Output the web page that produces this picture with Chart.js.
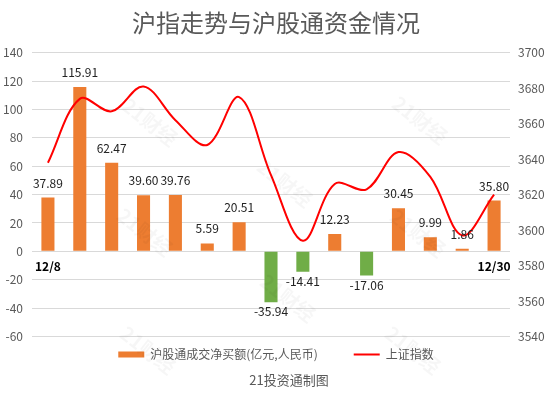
<!DOCTYPE html>
<html>
<head>
<meta charset="utf-8">
<script src="https://cdn.jsdelivr.net/npm/chart.js@4.4.0/dist/chart.umd.min.js"></script>
<style>
    html, body { margin: 0; padding: 0; background: #fff; }
    #wrap { width: 552px; height: 398px; }
</style>
</head>
<body>
<div id="wrap"><canvas id="myChart"></canvas></div>
<script>
// trading days shown (Hong Kong holidays skipped)
var days = ['12/8', '12/9', '12/10', '12/13', '12/14', '12/15', '12/16', '12/17', '12/20', '12/21', '12/22', '12/23', '12/28', '12/29', '12/30'];
// net buy via Shanghai Connect, 100m yuan
var netBuy = [37.89, 115.91, 62.47, 39.60, 39.76, 5.59, 20.51, -35.94, -14.41, 12.23, -17.06, 30.45, 9.99, 1.86, 35.80];
// SSE composite close
var shIndex = [3638, 3674, 3667, 3681, 3662, 3648, 3675, 3631, 3594, 3626, 3623, 3644, 3630, 3597, 3620];
var leftTicks = [-60, -40, -20, 0, 20, 40, 60, 80, 100, 120, 140];
var rightTicks = [3540, 3560, 3580, 3600, 3620, 3640, 3660, 3680, 3700];

var FONT = '"Noto Sans CJK SC", "Microsoft YaHei", sans-serif';
var ORANGE = '#ED7D31';
var GREEN = '#70AD47';
var RED = '#FF0000';
var GREY = '#595959';

Chart.defaults.font.family = FONT;

/**
 * Value labels above / below the bars
 */
var valueLabels = {
    id: 'valueLabels',
    afterDatasetsDraw: function (chart) {
        var meta = chart.getDatasetMeta(0);
        var ctx = chart.ctx;
        ctx.save();
        ctx.font = '12px ' + FONT;
        ctx.fillStyle = '#222';
        ctx.textAlign = 'center';
        ctx.textBaseline = 'alphabetic';
        meta.data.forEach(function (bar, i) {
            var v = netBuy[i];
            var y = v >= 0 ? bar.y - 10 : bar.y + 14;
            ctx.fillText(v.toFixed(2), bar.x, y);
        });
        ctx.restore();
    }
};

/**
 * Faint "21财经" watermark
 */
var watermark = {
    id: 'watermark',
    afterDraw: function (chart) {
        var spots = [[150, 122], [145, 232], [148, 350], [285, 183], [288, 298], [420, 120], [418, 233], [413, 350]];
        var ctx = chart.ctx;
        ctx.save();
        ctx.font = 'bold 20px ' + FONT;
        ctx.fillStyle = 'rgba(0, 0, 0, 0.035)';
        ctx.textAlign = 'center';
        ctx.textBaseline = 'middle';
        spots.forEach(function (p) {
            ctx.save();
            ctx.translate(p[0], p[1]);
            ctx.rotate(38 * Math.PI / 180);
            ctx.fillText('21财经', 0, 0);
            ctx.restore();
        });
        ctx.restore();
    }
};

var ctx = document.getElementById('myChart').getContext('2d');
var chart = new Chart(ctx, {
    data: {
        labels: days,
        datasets: [{
            type: 'bar',
            label: '沪股通成交净买额(亿元,人民币)',
            data: netBuy,
            yAxisID: 'y',
            order: 1,
            backgroundColor: function (c) { return netBuy[c.dataIndex] < 0 ? GREEN : ORANGE; },
            barPercentage: 0.41,
            categoryPercentage: 1
        }, {
            type: 'line',
            label: '上证指数',
            data: shIndex,
            yAxisID: 'y1',
            order: 0,
            borderColor: RED,
            borderWidth: 2,
            pointRadius: 0,
            tension: 0.35,
            fill: false
        }]
    },
    options: {
        responsive: true,
        maintainAspectRatio: false,
        animation: false,
        events: [],
        layout: { padding: 0 },
        scales: {
            x: {
                position: { y: 0 },
                offset: true,
                grid: { display: false, drawTicks: false },
                border: { display: false },
                ticks: {
                    autoSkip: false,
                    maxRotation: 0,
                    padding: 8,
                    color: '#000',
                    font: { size: 12, weight: 'bold' },
                    callback: function (v, i) {
                        return (i === 0 || i === days.length - 1) ? days[i] : '';
                    }
                }
            },
            y: {
                position: 'left',
                min: leftTicks[0],
                max: leftTicks[leftTicks.length - 1],
                ticks: { stepSize: leftTicks[1] - leftTicks[0], padding: 9, color: GREY, font: { size: 12 } },
                grid: { color: '#d9d9d9', drawTicks: false },
                border: { display: false },
                afterFit: function (s) { s.width = 32; }
            },
            y1: {
                position: 'right',
                min: rightTicks[0],
                max: rightTicks[rightTicks.length - 1],
                ticks: {
                    stepSize: rightTicks[1] - rightTicks[0],
                    padding: 8,
                    color: GREY,
                    font: { size: 12 },
                    callback: function (v) { return String(v); }
                },
                grid: { display: false, drawTicks: false },
                border: { display: false },
                afterFit: function (s) { s.width = 42; }
            }
        },
        plugins: {
            tooltip: { enabled: false },
            title: {
                display: true,
                text: '沪指走势与沪股通资金情况',
                color: GREY,
                font: { size: 24, weight: 'normal' },
                padding: { top: 8, bottom: 16 }
            },
            subtitle: {
                display: true,
                position: 'bottom',
                text: '\u3000\u300021投资通制图',
                color: GREY,
                font: { size: 13, weight: 'normal' },
                padding: { top: 2, bottom: 10 }
            },
            legend: {
                position: 'bottom',
                labels: {
                    usePointStyle: true,
                    pointStyleWidth: 26,
                    boxHeight: 6,
                    padding: 12,
                    color: GREY,
                    font: { size: 12 },
                    sort: function (a, b) { return a.datasetIndex - b.datasetIndex; },
                    generateLabels: function (chart) {
                        var items = Chart.defaults.plugins.legend.labels.generateLabels(chart);
                        items.forEach(function (it) {
                            if (it.datasetIndex === 0) {
                                it.pointStyle = 'rect';
                                it.fillStyle = ORANGE;
                                it.strokeStyle = ORANGE;
                                it.lineWidth = 0;
                                it.text += '\u3000\u3000';
                            } else {
                                it.pointStyle = 'line';
                                it.strokeStyle = RED;
                                it.lineWidth = 2;
                            }
                        });
                        return items;
                    }
                }
            }
        }
    },
    plugins: [valueLabels, watermark]
});
</script>
</body>
</html>
